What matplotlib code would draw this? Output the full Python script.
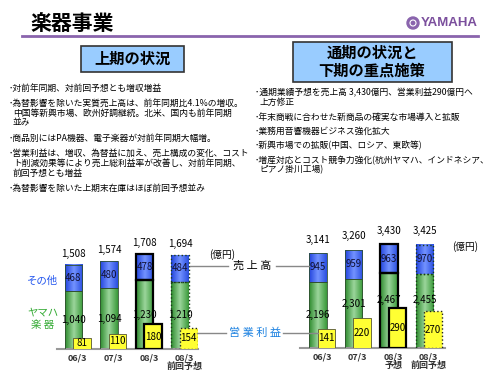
import matplotlib
matplotlib.use("Agg")
import matplotlib.pyplot as plt
import numpy as np
from matplotlib.colors import LinearSegmentedColormap
from matplotlib.patches import Rectangle, Ellipse
from matplotlib.lines import Line2D

plt.rcParams['font.family'] = ['Noto Sans CJK JP', 'DejaVu Sans']

W, H = 500, 375

# ===== データ (億円) =====
h1_labels = ["06/3", "07/3", "08/3", "08/3\n前回予想"]
h1_yamaha = [1040, 1094, 1230, 1210]
h1_other = [468, 480, 478, 484]
h1_total = [1508, 1574, 1708, 1694]
h1_profit = [81, 110, 180, 154]

fy_labels = ["06/3", "07/3", "08/3\n予想", "08/3\n前回予想"]
fy_yamaha = [2196, 2301, 2467, 2455]
fy_other = [945, 959, 963, 970]
fy_total = [3141, 3260, 3430, 3425]
fy_profit = [141, 220, 290, 270]

h1_bullets = [
    ["･対前年同期、対前回予想とも増収増益"],
    ["･為替影響を除いた実質売上高は、前年同期比4.1%の増収。",
     "中国等新興市場、欧州好調継続。北米、国内も前年同期",
     "並み"],
    ["･商品別にはPA機器、電子楽器が対前年同期大幅増。"],
    ["･営業利益は、増収、為替益に加え、売上構成の変化、コスト",
     "ト削減効果等により売上総利益率が改善し、対前年同期、",
     "前回予想とも増益"],
    ["･為替影響を除いた上期末在庫はほぼ前回予想並み"],
]
fy_bullets = [
    ["･通期業績予想を売上高 3,430億円、営業利益290億円へ",
     "上方修正"],
    ["･年末商戦に合わせた新商品の確実な市場導入と拡販"],
    ["･業務用音響機器ビジネス強化拡大"],
    ["･新興市場での拡販(中国、ロシア、東欧等)"],
    ["･増産対応とコスト競争力強化(杭州ヤマハ、インドネシア、",
     "ピアノ掛川工場)"],
]


def fx(x):
    return x / W


def fy(y):
    return 1 - y / H


fig = plt.figure(figsize=(5, 3.75), dpi=100)
fig.patch.set_facecolor('white')

# ===== ヘッダー =====
fig.text(fx(30), fy(24), "楽器事業", fontsize=15, fontweight='bold', va='center', ha='left')
fig.add_artist(Line2D([fx(22), fx(478)], [fy(36), fy(36)], color='#8a64ad', lw=2,
                      transform=fig.transFigure))
fig.add_artist(Ellipse((fx(413), fy(23)), 12 / W, 12 / H, color='#8a64ad',
                       transform=fig.transFigure))
fig.add_artist(Ellipse((fx(413), fy(23)), 6 / W, 6 / H, facecolor='none', edgecolor='white',
                       lw=0.8, transform=fig.transFigure))
fig.text(fx(421), fy(23), "YAMAHA", fontsize=9.5, fontweight='bold', color='#7b4f9d',
         family=['Liberation Sans', 'DejaVu Sans'], va='center', ha='left')

# 見出しボックス
fig.add_artist(Rectangle((fx(81), fy(72)), 103 / W, 26 / H, facecolor='#99ccff',
                         edgecolor='#333333', lw=1.2, transform=fig.transFigure))
fig.text(fx(132), fy(59), "上期の状況", fontsize=11, fontweight='bold', ha='center', va='center')
fig.add_artist(Rectangle((fx(293), fy(82)), 159 / W, 40 / H, facecolor='#99ccff',
                         edgecolor='#333333', lw=1.2, transform=fig.transFigure))
fig.text(fx(372), fy(62), "通期の状況と\n下期の重点施策", fontsize=11, fontweight='bold',
         ha='center', va='center', linespacing=1.15)


# ===== 箇条書き =====
def put_bullets(bullets, x, y0, step, gap):
    y = y0
    for b in bullets:
        for k, line in enumerate(b):
            fig.text(fx(x if k == 0 else x + 4), fy(y), line, fontsize=6.3, va='center', ha='left')
            y += step
        y += gap


put_bullets(h1_bullets, 9, 88, 10, 5)
put_bullets(fy_bullets, 255, 93, 9.5, 5)

# ===== 棒グラフ =====
green = LinearSegmentedColormap.from_list('g', ['#2e8b2e', '#9bd59b', '#3a9a3a'])
blue = LinearSegmentedColormap.from_list('b', ['#2244dd', '#7393ff', '#2a4ee0'])
grad = np.linspace(0, 1, 60).reshape(1, -1)

styles = [('#2f4f2f', 0.6, '-'), ('#2f4f2f', 0.6, '-'), ('black', 1.6, '-'), ('#1a3a1a', 1.0, ':')]


def grad_bar(ax, x, bottom, height, width, cmap, ec, lw, ls):
    ax.imshow(grad, cmap=cmap, aspect='auto', zorder=2,
              extent=[x - width / 2, x + width / 2, bottom, bottom + height])
    ax.bar(x, height, width, bottom=bottom, color='none', edgecolor=ec,
           linewidth=lw, linestyle=ls, zorder=3)


def draw_chart(rect, xlim, sales_top, profit_top, labels, yamaha, other, total, profit,
               tpad, green_dy):
    ax = fig.add_axes(rect)
    axp = ax.twinx()
    bw = 0.49
    off = 0.24
    for i in range(len(labels)):
        ec, lw, ls = styles[i]
        grad_bar(ax, i, 0, yamaha[i], bw, green, ec, lw, ls)
        grad_bar(ax, i, yamaha[i], other[i], bw, blue, ec, lw, ls)
        ax.annotate(f"{yamaha[i]:,}", (i, yamaha[i] / 2), xytext=(0, green_dy[i]),
                    textcoords='offset points', ha='center', va='center', fontsize=7, zorder=5)
        ax.text(i, yamaha[i] + other[i] / 2, f"{other[i]:,}", ha='center', va='center',
                fontsize=7, color='#111133', zorder=5)
        ax.annotate(f"{total[i]:,}", (i, total[i]), xytext=(0, tpad), textcoords='offset points',
                    ha='center', va='center', fontsize=7)
        pec = 'black' if i == 2 else ('#222222' if i == 3 else '#555533')
        plw = 1.6 if i == 2 else (1.0 if i == 3 else 0.6)
        axp.bar(i + off, profit[i], 0.5, color='#ffff33', edgecolor=pec, linewidth=plw,
                linestyle=ls, zorder=3)
        axp.text(i + off, profit[i] / 2, f"{profit[i]}", ha='center', va='center', fontsize=7)

    ax.set_xlim(*xlim)
    ax.set_ylim(0, sales_top)
    axp.set_ylim(0, profit_top)
    ax.set_xticks([i + 0.12 for i in range(len(labels))])
    ax.set_xticklabels(labels, fontsize=6.5, fontweight='bold', color='#333333', linespacing=1.0)
    ax.tick_params(axis='x', length=0, pad=3)
    ax.set_yticks([])
    axp.set_yticks([])
    for s in ['top', 'left', 'right']:
        ax.spines[s].set_visible(False)
    for s in axp.spines.values():
        s.set_visible(False)
    ax.spines['bottom'].set_color('#999999')
    ax.spines['bottom'].set_linewidth(1.5)
    ax.patch.set_alpha(0)
    return ax


# 上期 (左)
draw_chart([fx(57), fy(349), 141 / W, 110 / H], (-0.46, 3.5), 110 / 0.0557, 110 / 0.137,
           h1_labels, h1_yamaha, h1_other, h1_total, h1_profit, 8, [0, 0, 0, 0])
# 通期 (右)
draw_chart([fx(300), fy(348), 145 / W, 115 / H], (-0.51, 3.58), 115 / 0.0302, 115 / 0.137,
           fy_labels, fy_yamaha, fy_other, fy_total, fy_profit, 9.5, [0, 7, 8, 8])

# ===== 凡例・注記 =====
fig.text(fx(42), fy(281), "その他", fontsize=7.5, color='#2255ee', ha='center', va='center')
fig.text(fx(43), fy(312), "ヤマハ", fontsize=7.5, color='#33aa33', ha='center', va='center')
fig.text(fx(43), fy(325), "楽 器", fontsize=7.5, color='#33aa33', ha='center', va='center')

fig.text(fx(222), fy(255), "(億円)", fontsize=7, ha='center', va='center')
fig.text(fx(465), fy(247), "(億円)", fontsize=7, ha='center', va='center')

fig.text(fx(252), fy(266), "売 上 高", fontsize=8, ha='center', va='center')
fig.add_artist(Line2D([fx(190), fx(228)], [fy(266)] * 2, color='#888888', lw=1, transform=fig.transFigure))
fig.add_artist(Line2D([fx(276), fx(309)], [fy(266)] * 2, color='#888888', lw=1, transform=fig.transFigure))

fig.text(fx(255), fy(333), "営 業 利 益", fontsize=8, color='#1a80e0', ha='center', va='center')
fig.add_artist(Line2D([fx(197), fx(226)], [fy(333)] * 2, color='#888888', lw=1, transform=fig.transFigure))
fig.add_artist(Line2D([fx(283), fx(318)], [fy(333)] * 2, color='#888888', lw=1, transform=fig.transFigure))

plt.savefig("out.png", dpi=100)
plt.close()
